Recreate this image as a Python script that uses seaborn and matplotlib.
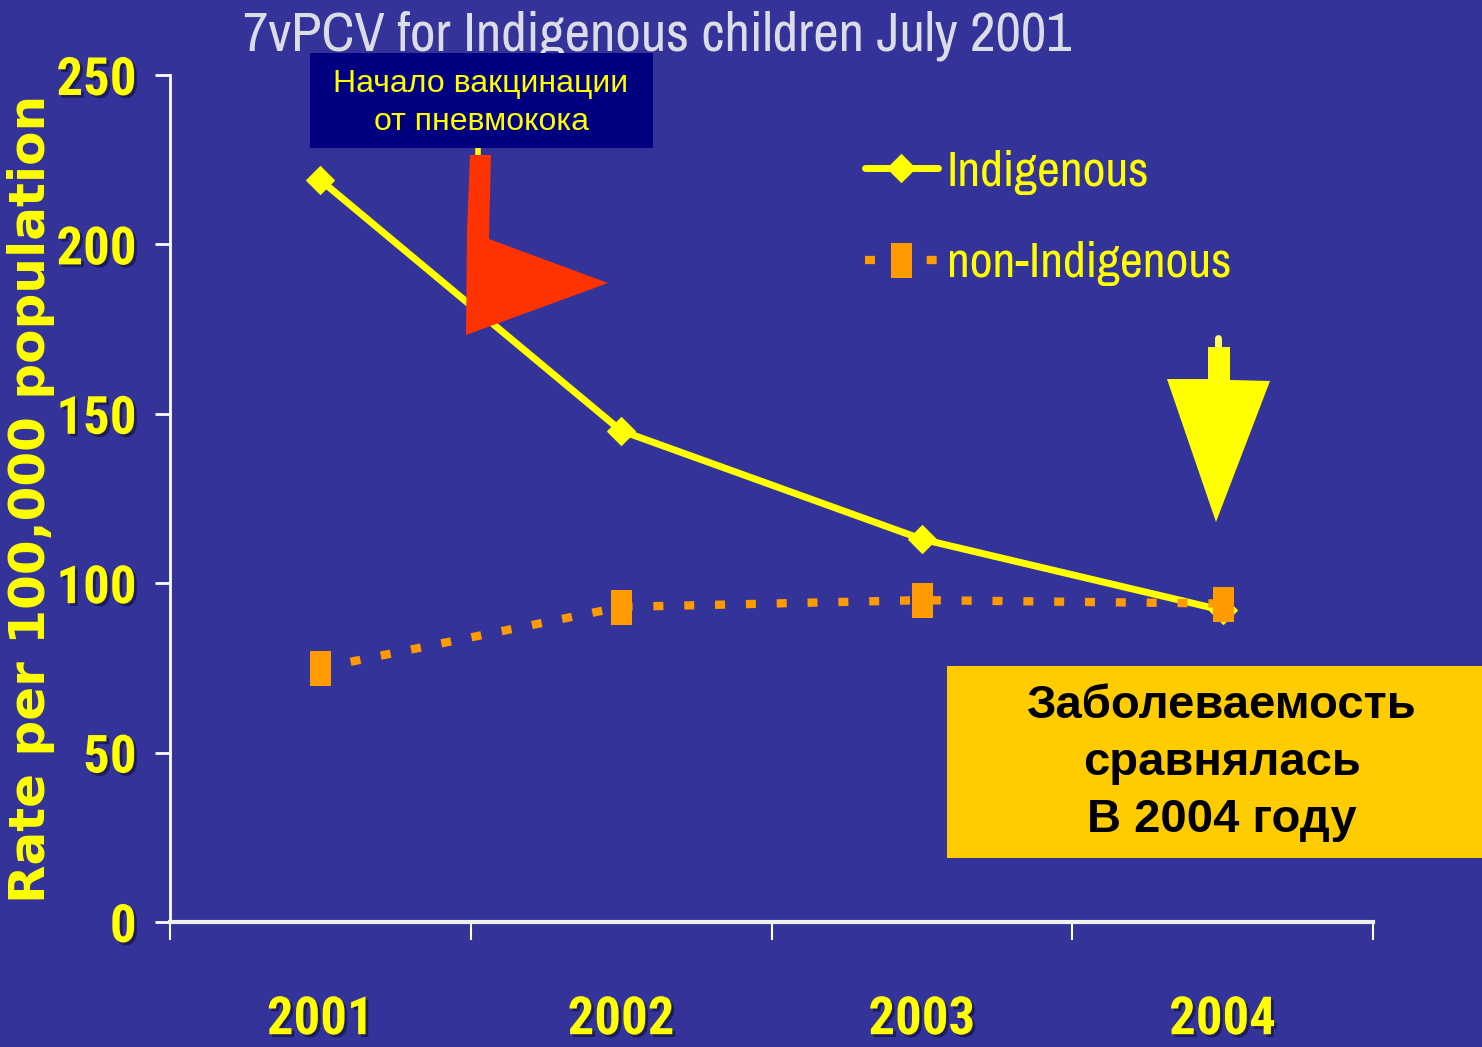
import matplotlib
matplotlib.use("Agg")
import matplotlib.pyplot as plt
import matplotlib.patheffects as pe
from matplotlib import font_manager as fm
from matplotlib.lines import Line2D
from matplotlib.patches import Polygon, Rectangle
import numpy as np
import seaborn as sns

# data
years = ["2001", "2002", "2003", "2004"]
indigenous = [219, 145, 113, 92]
non_indigenous = [75, 93, 95, 94]
y_ticks = [0, 50, 100, 150, 200, 250]

title = "7vPCV for Indigenous children July 2001"
y_label = "Rate per 100,000 population"
note_top = "Начало вакцинации\nот пневмокока"
note_bottom = "Заболеваемость\nсравнялась\nВ 2004 году"

BG = "#333399"
YELLOW = "#ffff00"
ORANGE = "#ff9a00"
W, H = 1482, 1047

WEIGHTS = {}
for f in fm.fontManager.ttflist:
    WEIGHTS.setdefault(f.name, set()).add(f.weight)


def pick(names, bold=False):
    """First installed family from the list (with a bold face if asked)."""
    for n in names:
        w = WEIGHTS.get(n)
        if not w:
            continue
        if not bold or any(v == "bold" or (isinstance(v, int) and v >= 700) for v in w):
            return n
    return "DejaVu Sans"


NARROW_NAMES = ["Liberation Sans Narrow", "Archivo Narrow", "Roboto Condensed", "PT Sans Narrow",
                "Fira Sans Condensed", "Barlow Condensed", "Saira SemiCondensed", "Sofia Sans Condensed"]
NARROW = [pick(NARROW_NAMES), "DejaVu Sans"]
NARROW_BOLD = [pick(NARROW_NAMES, bold=True), "DejaVu Sans"]
SANS = ["Liberation Sans", "DejaVu Sans"]

sns.set_style("white")
plt.rcParams["font.family"] = NARROW


def fpx(px, py):
    """Slide pixel position -> figure fraction."""
    return (px / W, 1 - py / H)


fig = plt.figure(figsize=(W / 100, H / 100), dpi=100, facecolor=BG)
ax = fig.add_axes([170 / W, 1 - 922 / H, (1373 - 170) / W, (922 - 75) / H])
ax.set_facecolor(BG)

x = np.arange(len(years))
sns.lineplot(x=x, y=indigenous, ax=ax, color=YELLOW, linewidth=5,
             marker="D", markersize=14, markeredgecolor=YELLOW,
             markerfacecolor=YELLOW, label="Indigenous")
rect = [(-0.3, -0.5), (0.3, -0.5), (0.3, 0.5), (-0.3, 0.5), (-0.3, -0.5)]
sns.lineplot(x=x, y=non_indigenous, ax=ax, color=ORANGE, linewidth=6,
             linestyle=(0, (1.2, 2.5)), marker=rect, markersize=24,
             markeredgecolor=ORANGE, markerfacecolor=ORANGE,
             label="non-Indigenous")

ax.set_xlim(-0.5, len(years) - 0.5)
ax.set_ylim(0, 250)
for s in ["top", "right"]:
    ax.spines[s].set_visible(False)
ax.spines["left"].set_color("white")
ax.spines["left"].set_linewidth(2)
ax.spines["bottom"].set_color("#f0f0f0")
ax.spines["bottom"].set_linewidth(3)

shadow = [pe.withSimplePatchShadow(offset=(2, -2), shadow_rgbFace="#1a1a55", alpha=0.9)]
ax.set_xticks(x)
ax.set_xticklabels(years)
ax.set_xticks(np.arange(len(years) + 1) - 0.5, minor=True)
ax.tick_params(which="both", bottom=True, left=True)
ax.tick_params(axis="x", which="major", length=0, pad=52)
ax.tick_params(axis="x", which="minor", length=13, width=1.5, color="white", direction="out")
ax.set_yticks(y_ticks)
ax.tick_params(axis="y", length=11, width=2, color="white", direction="out", pad=13)
for lab in ax.get_xticklabels() + ax.get_yticklabels():
    lab.set_fontsize(38)
    lab.set_fontweight("bold")
    lab.set_color(YELLOW)
    lab.set_family(NARROW_BOLD)
    lab.set_path_effects(shadow)
ax.set_xlabel("")
ax.set_ylabel("")

leg = ax.legend(loc="upper left", bbox_to_anchor=fpx(865, 150), bbox_transform=fig.transFigure,
                frameon=False, fontsize=36, handlelength=1.45, handletextpad=0.18,
                labelspacing=0.93, borderpad=0, borderaxespad=0, numpoints=1)
for t in leg.get_texts():
    t.set_color(YELLOW)

fig.text(*fpx(31, 499), y_label, rotation=90, ha="center", va="center",
         fontsize=36, fontweight="bold", color=YELLOW, family=["DejaVu Sans"])
fig.text(*fpx(243, 37), title, ha="left", va="center", fontsize=40,
         color="#dcdce6", family=NARROW, zorder=2)

# navy note box over the title
fig.patches.append(Rectangle(fpx(310, 148), (653 - 310) / W, (148 - 53) / H,
                             transform=fig.transFigure, facecolor="#000080",
                             edgecolor="none", zorder=4))
fig.text(*fpx(481, 103), note_top, ha="center", va="center", fontsize=23,
         color=YELLOW, family=SANS, linespacing=1.35, zorder=5)

# red bent arrow at the vaccination start
fig.lines.append(Line2D([478 / W, 478 / W], [1 - 148 / H, 1 - 240 / H], transform=fig.transFigure,
                        color=YELLOW, linewidth=4, zorder=4))
red = [(470, 155), (491, 155), (489, 239), (608, 283), (466, 335), (467, 230)]
fig.patches.append(Polygon([fpx(*p) for p in red], closed=True, transform=fig.transFigure,
                           facecolor="#ff3300", edgecolor="none", zorder=5))

# yellow arrow pointing at 2004
fig.lines.append(Line2D([1218 / W, 1218 / W], [1 - 338 / H, 1 - 352 / H], transform=fig.transFigure,
                        color="#ffff66", linewidth=5, solid_capstyle="round", zorder=4))
yel = [(1208, 347), (1230, 347), (1230, 380), (1270, 381), (1216, 522), (1167, 379), (1208, 379)]
fig.patches.append(Polygon([fpx(*p) for p in yel], closed=True, transform=fig.transFigure,
                           facecolor=YELLOW, edgecolor="none", zorder=5))

# gold note box
fig.patches.append(Rectangle(fpx(947, 858), (1482 - 947) / W, (858 - 666) / H,
                             transform=fig.transFigure, facecolor="#ffcc00",
                             edgecolor="none", zorder=4))
fig.text(*fpx(1222, 763), note_bottom, ha="center", va="center", multialignment="center",
         fontsize=34, fontweight="bold", color="black", family=SANS,
         linespacing=1.38, zorder=5)

fig.savefig("out.png", dpi=100, facecolor=BG)
